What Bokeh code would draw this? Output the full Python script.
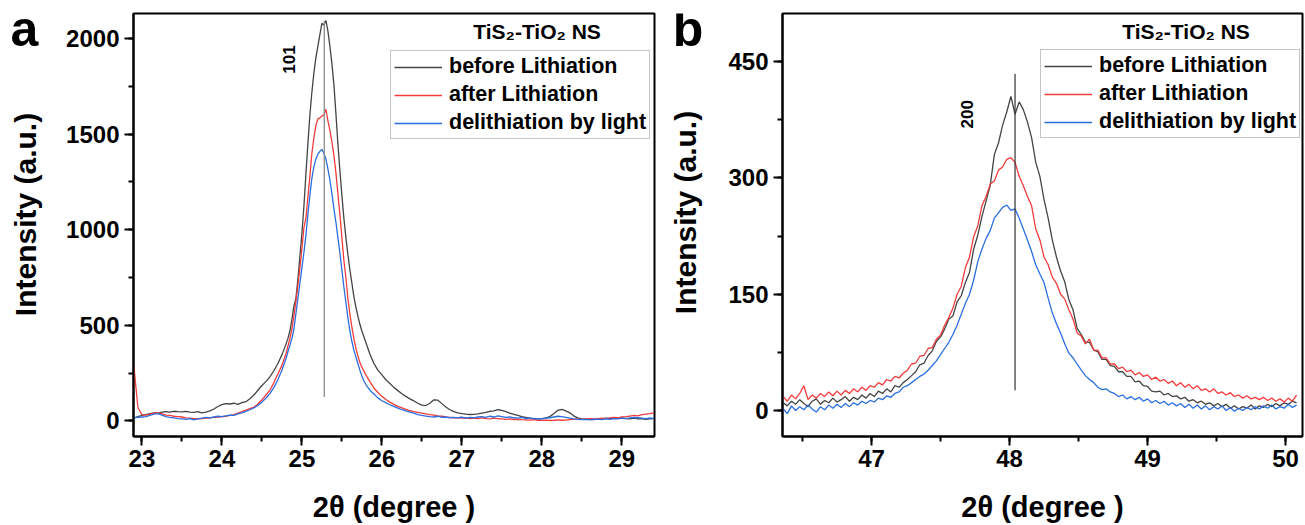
from math import pi
from bokeh.plotting import figure
from bokeh.layouts import row
from bokeh.models import Label, Range1d, SingleIntervalTicker
from bokeh.embed import file_html
from bokeh.resources import INLINE

FONT = "Liberation Sans"

# ---------------- Panel a data (2theta, intensity) ----------------
xa = ([round(22.90 + 0.05 * i, 3) for i in range(39)]
      + [round(24.825 + 0.025 * i, 3) for i in range(39)]
      + [round(25.80 + 0.05 * i, 3) for i in range(73)])

a_before = [15, 22, 28, 32, 38, 42, 40, 45, 48, 46,
            50, 48, 47, 50, 46, 44, 48, 42, 45, 52,
            62, 75, 85, 90, 88, 92, 86, 95, 100, 115,
            135, 160, 185, 205, 230, 262, 300, 345, 400,
            # fine section
            430, 470, 530, 600, 640, 740, 860, 980, 1120, 1290,
            1450, 1600, 1720, 1820, 1900, 1960, 2020, 2080, 2070, 2095,
            2040, 1960, 1870, 1760, 1610, 1450, 1310, 1180, 1060, 960,
            870, 790, 720, 650, 595, 548, 505, 470, 440,
            # tail
            410, 350, 300, 265, 240,
            215, 195, 175, 158, 142, 128, 115, 104, 92, 82,
            80, 92, 110, 108, 90, 72, 58, 48, 42, 38,
            35, 33, 34, 36, 40, 44, 50, 52, 58, 55,
            48, 40, 34, 28, 22, 18, 14, 12, 10, 12,
            15, 22, 38, 55, 60, 52, 42, 25, 15, 10,
            8, 10, 8, 12, 10, 14, 12, 15, 14, 16,
            12, 10, 14, 10, 12, 8, 10, 12]

a_after = [285, 70, 32, 30, 35, 40, 42, 38, 30, 28,
           24, 22, 20, 15, 14, 12, 10, 12, 14, 15,
           18, 20, 22, 24, 28, 32, 40, 48, 56, 64,
           72, 88, 110, 135, 160, 200, 245, 290, 350,
           # fine section
           390, 430, 480, 550, 625, 710, 800, 900, 1010, 1060,
           1170, 1280, 1400, 1480, 1545, 1580, 1585, 1595, 1600, 1630,
           1570, 1520, 1460, 1390, 1300, 1190, 1080, 960, 840, 750,
           640, 560, 490, 430, 380, 340, 305, 280, 260,
           # tail
           240, 205, 172, 148, 128,
           112, 98, 86, 76, 68, 60, 54, 48, 44, 40,
           36, 32, 30, 26, 24, 20, 18, 16, 15, 14,
           16, 12, 14, 12, 15, 12, 10, 14, 12, 10,
           8, 10, 7, 8, 6, 5, 4, 6, 3, 2,
           4, 2, 3, 5, 3, 4, 6, 8, 10, 8,
           10, 12, 10, 12, 14, 12, 15, 18, 16, 20,
           22, 25, 28, 26, 32, 35, 38, 42]

a_light = [15, 18, 20, 22, 28, 35, 38, 30, 22, 18,
           15, 12, 10, 8, 12, 5, 10, 14, 18, 15,
           20, 24, 22, 26, 30, 28, 36, 42, 50, 58,
           68, 80, 98, 118, 142, 175, 215, 265, 325,
           # fine section
           360, 395, 430, 480, 560, 640, 720, 800, 880, 970,
           1080, 1180, 1270, 1330, 1370, 1395, 1410, 1420, 1400, 1370,
           1320, 1260, 1190, 1110, 1040, 960, 880, 790, 700, 620,
           540, 470, 415, 370, 335, 300, 265, 235, 210,
           # tail
           190, 160, 140, 120, 105,
           95, 84, 76, 66, 58, 52, 45, 40, 32, 28,
           25, 22, 20, 24, 18, 20, 16, 18, 15, 20,
           14, 18, 16, 20, 22, 18, 24, 20, 26, 22,
           18, 20, 16, 14, 18, 12, 15, 10, 12, 10,
           14, 16, 20, 24, 22, 18, 14, 10, 8, 6,
           8, 5, 7, 9, 6, 10, 8, 12, 10, 14,
           12, 15, 18, 16, 14, 12, 15, 12]

peak_a_x = [25.28]
peak_a_lo = [125]
peak_a_hi = [2090]

# ---------------- Panel b data ----------------
xb = [round(46.36 + 0.03 * i, 3) for i in range(125)]

b_before = [10, 6, 12, 8, 14, 9, 5, 12, 15, 8,
            13, 10, 16, 11, 14, 18, 12, 17, 14, 20,
            16, 22, 18, 25, 22, 28, 24, 32, 30, 36,
            40, 45, 50, 59, 61, 71, 77, 89, 95, 105,
            118, 122, 140, 148, 165, 178, 208, 226, 250, 270,
            290, 330, 345, 368, 385, 405, 382, 398, 388, 372,
            352, 320, 302, 272, 248, 220, 198, 180, 166, 143,
            130, 106, 98, 88, 88, 78, 76, 66, 66, 58,
            57, 50, 50, 44, 44, 37, 38, 32, 31, 25,
            24, 25, 20, 22, 18, 19, 15, 17, 12, 14,
            10, 12, 8, 10, 6, 9, 5, 8, 3, 6,
            2, 5, 3, 7, 2, 6, 4, 8, 5, 9,
            6, 10, 8, 12, 10]

b_after = [18, 12, 20, 15, 22, 32, 14, 20, 16, 22,
           18, 24, 19, 25, 20, 26, 22, 28, 24, 30,
           26, 32, 30, 36, 33, 40, 38, 44, 42, 48,
           52, 60, 61, 70, 71, 80, 81, 92, 97, 110,
           120, 132, 150, 160, 184, 198, 224, 238, 264, 276,
           292, 296, 310, 314, 324, 326, 320, 302, 290, 276,
           264, 234, 220, 198, 188, 172, 164, 150, 144, 130,
           118, 100, 96, 86, 92, 78, 78, 68, 68, 60,
           60, 54, 56, 50, 52, 46, 49, 44, 46, 40,
           43, 38, 40, 35, 38, 32, 36, 30, 34, 28,
           32, 26, 28, 24, 28, 22, 24, 20, 23, 18,
           20, 16, 19, 15, 17, 14, 17, 13, 16, 12,
           15, 11, 16, 12, 20]

b_light = [2, -4, 6, 0, 5, 1, 7, 2, -2, 5,
           1, 7, 3, 8, 4, 9, 5, 10, 7, 12,
           9, 13, 11, 16, 14, 19, 17, 22, 24, 30,
           32, 36, 40, 44, 47, 52, 58, 64, 72, 80,
           88, 98, 110, 124, 138, 150, 168, 192, 208, 222,
           232, 248, 255, 262, 265, 258, 260, 248, 234, 220,
           205, 188, 176, 165, 145, 126, 112, 100, 86, 74,
           68, 60, 52, 45, 40, 36, 30, 27, 28, 24,
           22, 18, 20, 15, 18, 14, 17, 12, 15, 10,
           13, 9, 12, 7, 10, 6, 9, 4, 8, 3,
           7, 2, 6, 1, 5, 2, 6, 0, 4, -1,
           3, 0, 4, 1, 5, 2, 6, 3, 7, 2,
           5, 3, 8, 4, 7]

peak_b_x = [48.04]
peak_b_lo = [26]
peak_b_hi = [434]

series_names = ["before Lithiation", "after Lithiation", "delithiation by light"]
series_colors = ["#444444", "#f23c3c", "#2a6ee0"]
sample_title = "TiS\u2082-TiO\u2082 NS"
panel_letters = ["a", "b"]
x_title = "2\u03b8 (degree )"
y_title = "Intensity (a.u.)"

H = 525
TOP, BOTTOM = 13, 89   # borders around the 423 px tall frames


def fit(x, y):
    n = min(len(x), len(y))
    return x[:n], y[:n]


def make_panel(x, ys, xr, yr, yint, fw, mbl, mbr):
    p = figure(frame_width=fw, frame_height=H - TOP - BOTTOM, x_range=Range1d(*xr), y_range=Range1d(*yr),
               output_backend="svg", toolbar_location=None,
               min_border_left=mbl, min_border_right=mbr, min_border_top=TOP, min_border_bottom=BOTTOM,
               background_fill_color="white", border_fill_color="white")
    for yv, name, col in zip(ys, series_names, series_colors):
        xx, yy = fit(x, yv)
        p.line(xx, yy, line_color=col, line_width=1.3, legend_label=name)
    p.xgrid.grid_line_color = None
    p.ygrid.grid_line_color = None
    p.xaxis.ticker = SingleIntervalTicker(interval=1, num_minor_ticks=2)
    p.yaxis.ticker = SingleIntervalTicker(interval=yint, num_minor_ticks=2)
    p.xaxis.axis_label = x_title
    for ax in (p.xaxis[0], p.yaxis[0]):
        ax.axis_line_width = 2
        ax.axis_line_color = "black"
        ax.major_tick_line_width = 2
        ax.minor_tick_line_width = 2
        ax.major_tick_out = 9
        ax.major_tick_in = 0
        ax.minor_tick_out = 5
        ax.minor_tick_in = 0
        ax.major_label_text_font = FONT
        ax.major_label_text_font_style = "bold"
        ax.major_label_text_font_size = "24px"
        ax.major_label_text_color = "black"
        ax.axis_label_text_font = FONT
        ax.axis_label_text_font_style = "bold"
        ax.axis_label_text_font_size = "29px"
        ax.axis_label_text_color = "black"
    p.xaxis.major_label_standoff = 4
    p.yaxis.major_label_standoff = 5
    p.xaxis.axis_label_standoff = 21
    p.outline_line_color = "black"
    p.outline_line_width = 2
    lg = p.legend[0]
    lg.label_text_font = FONT
    lg.label_text_font_style = "bold"
    lg.label_text_font_size = "21.5px"
    lg.label_text_color = "black"
    lg.glyph_width = 48
    lg.glyph_height = 20
    lg.label_height = 20
    lg.label_standoff = 7
    lg.spacing = 3
    lg.padding = 3
    lg.margin = 0
    lg.border_line_color = "#8a8a8a"
    lg.border_line_width = 1.5
    lg.background_fill_color = "white"
    lg.background_fill_alpha = 1.0
    return p


def side_strip(w, letter, letter_x, letter_y, ylab_x, ylab_y):
    """Narrow strip left of a panel holding the panel letter and the y-axis title.
    Its frame is aligned with the neighbouring frames (screen rows TOP..H-BOTTOM), so the
    y range is chosen such that a data value equals H - screen row."""
    f = figure(width=w, height=H, x_range=Range1d(0, w), y_range=Range1d(BOTTOM, H - TOP),
               output_backend="svg", toolbar_location=None, x_axis_type=None, y_axis_type=None,
               min_border=0, outline_line_color=None,
               background_fill_color="white", border_fill_color="white")
    f.xgrid.grid_line_color = None
    f.ygrid.grid_line_color = None
    f.add_layout(Label(x=letter_x, y=H - letter_y, text=letter, text_align="center",
                       text_baseline="middle", text_font=FONT, text_font_style="bold",
                       text_font_size="50px", text_color="black"))
    f.add_layout(Label(x=ylab_x, y=H - ylab_y, text=y_title, angle=pi / 2, text_align="center",
                       text_baseline="middle", text_font=FONT, text_font_style="bold",
                       text_font_size="30px", text_color="black"))
    return f


# ---------------- Panel a ----------------
pa = make_panel(xa, [a_before, a_after, a_light], (22.895, 29.408), (-82, 2131), 500, 521, 88, 10)
pa.legend[0].location = (257, 297)
pa.segment(x0=peak_a_x, y0=peak_a_lo, x1=peak_a_x, y1=peak_a_hi, line_color="#8c8c8c", line_width=1.3)
pa.add_layout(Label(x=24.84, y=1890, text="101", angle=pi / 2, text_align="center", text_baseline="middle",
                    text_font=FONT, text_font_style="bold", text_font_size="17px", text_color="black"))
pa.add_layout(Label(x=27.94, y=2039, text=sample_title, text_align="center", text_baseline="alphabetic",
                    text_font=FONT, text_font_style="bold", text_font_size="21px", text_color="black"))

# ---------------- Panel b ----------------
pb = make_panel(xb, [b_before, b_after, b_light], (46.355, 50.123), (-33.5, 512), 150, 520, 72, 3)
pb.legend[0].location = (258, 298)
pb.segment(x0=peak_b_x, y0=peak_b_lo, x1=peak_b_x, y1=peak_b_hi, line_color="#333333", line_width=1.2)
pb.add_layout(Label(x=47.69, y=382, text="200", angle=pi / 2, text_align="center", text_baseline="middle",
                    text_font=FONT, text_font_style="bold", text_font_size="17px", text_color="black"))
pb.add_layout(Label(x=49.279, y=489, text=sample_title, text_align="center", text_baseline="alphabetic",
                    text_font=FONT, text_font_style="bold", text_font_size="21px", text_color="black"))

sa = side_strip(45, panel_letters[0], 24, 28, 25, 214)
sb = side_strip(46, panel_letters[1], 23.5, 28, 21, 212)

layout = row(sa, pa, sb, pb)
open("out.html", "w").write(file_html(layout, INLINE))
